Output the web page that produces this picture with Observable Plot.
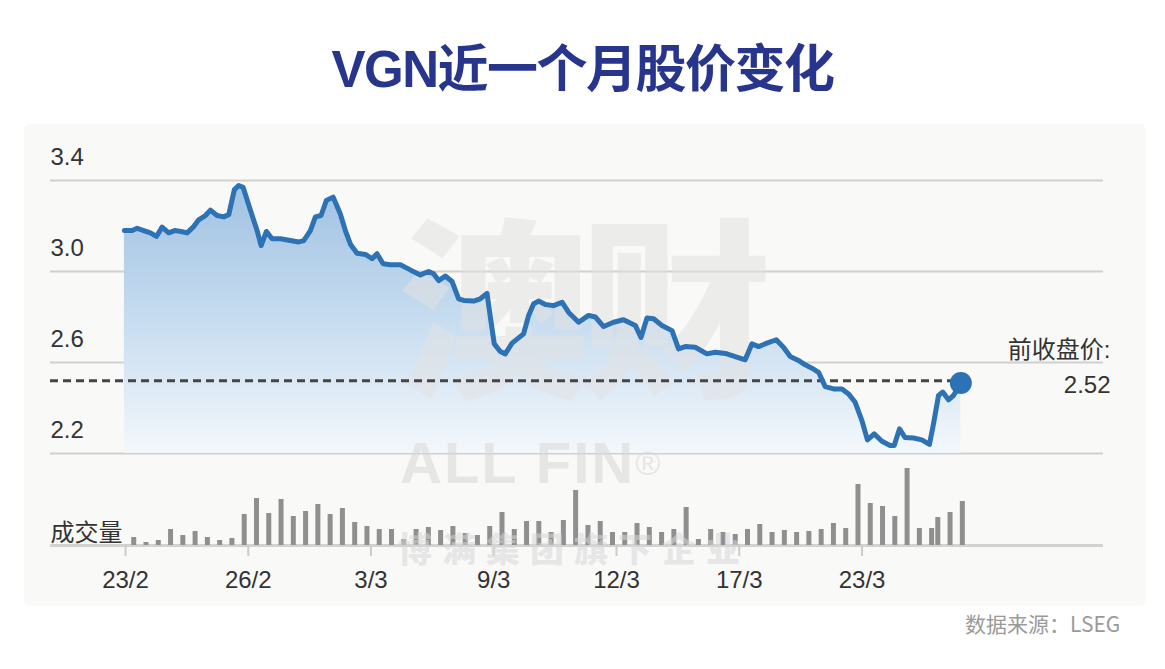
<!DOCTYPE html>
<html>
<head>
<meta charset="utf-8">
<script src="https://cdn.jsdelivr.net/npm/d3@7"></script>
<script src="https://cdn.jsdelivr.net/npm/@observablehq/plot@0.6"></script>
<style>
  html, body { margin: 0; padding: 0; background: #ffffff; }
  body { width: 1165px; height: 669px; overflow: hidden; position: relative;
         font-family: "Liberation Sans", "Noto Sans CJK SC", sans-serif; }
  #title { position: absolute; left: 0; top: 40px; width: 1165px; text-align: center;
           font-size: 51px; font-weight: bold; color: #28358c; line-height: 60px; letter-spacing: -1.5px; }
  #panel { position: absolute; left: 24px; top: 124px; width: 1122px; height: 482px;
           background: #f9f9f7; border-radius: 6px; }
  #price { position: absolute; left: 0; top: 125px; }
  #vol { position: absolute; left: 0; top: 455px; }
  .wm { position: absolute; font-family: "Noto Sans CJK SC", sans-serif; font-weight: 900;
        color: rgba(215,215,215,0.55); pointer-events: none; white-space: nowrap; }
  #source { position: absolute; left: 965px; top: 608px; font-size: 21px; color: #9a9a9a;
            font-family: "Noto Sans CJK SC", sans-serif; }
</style>
</head>
<body>
<div id="panel"></div>
<div id="title">VGN近一个月股价变化</div>
<div id="price"></div>
<div id="vol"></div>
<div class="wm" style="left:400px; top:428px; font-size:58px; line-height:70px; font-family:'Liberation Sans',sans-serif; letter-spacing:2px;">ALL FIN<span style="font-size:34px; vertical-align:top; font-weight:normal;">®</span></div>
<div class="wm" style="left:398px; top:526px; font-size:34px; line-height:44px; letter-spacing:10px;">博满集团旗下企业</div>
<div id="source">数据来源：LSEG</div>
<script>
// ---- data ----
// x positions are in "bar index" units (one unit = one volume bar slot)
const tickLabels = ["23/2", "26/2", "3/3", "9/3", "12/3", "17/3", "23/3"];
const tickIndex  = [0.33, 10.33, 20.33, 30.33, 40.33, 50.33, 60.33];

const priceTicks = [3.4, 3.0, 2.6, 2.2];
const prevClose = 2.52;

const lineT = [0.24,0.87,1.28,1.82,2.36,2.85,3.31,3.85,4.32,4.86,5.35,5.84,6.29,6.84,7.25,7.79,8.33,8.74,9.2,9.55,9.91,10.5,11.05,11.38,11.81,12.27,12.95,13.76,14.44,14.85,15.39,15.8,16.26,16.69,17.24,17.83,18.24,18.65,19.19,19.87,20.42,20.82,21.31,21.9,22.72,23.53,24.35,25.02,25.43,25.84,26.38,26.93,27.47,27.88,28.69,29.23,29.78,30.05,30.37,30.86,31.27,31.82,32.76,33.17,33.58,33.98,34.53,35.2,35.89,36.43,37.24,38.05,38.6,39.28,40.09,40.9,41.86,42.32,42.81,43.35,44.03,44.85,45.38,45.93,46.74,47.69,48.37,49.19,50.0,50.81,51.36,51.9,52.58,53.34,53.93,54.48,55.15,55.7,56.25,56.79,57.33,58.01,58.69,59.23,59.77,60.32,60.77,61.32,61.95,62.62,62.95,63.38,63.84,64.52,65.2,65.82,66.15,66.56,66.91,67.37,67.78,68.38];
const linePrice = [3.18,3.18,3.19,3.18,3.17,3.154,3.195,3.17,3.18,3.176,3.17,3.195,3.227,3.246,3.27,3.246,3.24,3.25,3.36,3.378,3.37,3.27,3.18,3.114,3.176,3.144,3.144,3.136,3.13,3.136,3.18,3.24,3.246,3.312,3.327,3.253,3.18,3.12,3.08,3.075,3.056,3.078,3.034,3.03,3.03,3.007,2.985,3.0,2.99,2.96,2.98,2.956,2.88,2.873,2.87,2.88,2.904,2.8,2.682,2.648,2.638,2.685,2.726,2.807,2.858,2.87,2.855,2.85,2.865,2.82,2.777,2.807,2.8,2.758,2.777,2.788,2.763,2.71,2.796,2.792,2.763,2.74,2.66,2.67,2.667,2.638,2.645,2.64,2.626,2.612,2.682,2.67,2.685,2.70,2.667,2.626,2.609,2.59,2.575,2.557,2.494,2.484,2.484,2.462,2.425,2.345,2.26,2.286,2.254,2.235,2.235,2.308,2.27,2.268,2.26,2.24,2.33,2.455,2.47,2.436,2.455,2.51];

const volIndex = [1,2,3,4,5,6,7,8,9,10,11,12,13,14,15,16,17,18,19,20,21,22,23,24,25,26,27,28,29,30,31,32,33,34,35,36,37,38,39,40,41,42,43,44,45,46,47,48,49,50,51,52,53,54,55,56,57,58,59,60,61,62,63,64,65,66,66.5,67.5,68.5];
const volume = [8,3,5,16,10,14,8,5,7,31,47,32,46,29,34,41,31,37,23,19,16,16,6,16,18,15,19,12,10,19,33,16,24,24,13,25,55,20,24,13,13,22,18,13,16,38,6,16,13,11,16,21,13,15,13,14,16,22,17,61,42,39,29,77,17,17,28,33,44];

// ---- build ----
const xDomain = [-5.78, 80];
const priceData = lineT.map((t, i) => ({t, p: linePrice[i]}));
const volData = volIndex.map((t, i) => ({t, v: volume[i]}));
const last = priceData[priceData.length - 1];
const labelOf = new Map(tickIndex.map((t, i) => [t, tickLabels[i]]));
const font = "'Liberation Sans', 'Noto Sans CJK SC', sans-serif";

const priceChart = Plot.plot({
  width: 1165, height: 345,
  marginLeft: 50, marginRight: 62, marginTop: 55, marginBottom: 17,
  x: {domain: xDomain, axis: null},
  y: {domain: [2.2, 3.4], axis: null},
  style: {background: "transparent", fontFamily: font, overflow: "visible"},
  marks: [
    Plot.ruleY(priceTicks, {stroke: "#d0d0d0", strokeWidth: 2}),
    Plot.text(priceTicks, {y: d => d, text: d => d.toFixed(1), frameAnchor: "left", textAnchor: "start",
      dy: -23, fontSize: 24, fill: "#333"}),
    Plot.areaY(priceData, {x: "t", y1: 2.2, y2: "p", fill: "url(#pgrad)"}),
    Plot.ruleY([prevClose], {x1: xDomain[0], x2: last.t, stroke: "#454545", strokeWidth: 3, strokeDasharray: "8,5"}),
    Plot.line(priceData, {x: "t", y: "p", stroke: "#2c72b4", strokeWidth: 5, strokeLinejoin: "round", strokeLinecap: "round"}),
    Plot.dot([last], {x: "t", y: "p", r: 11, fill: "#2c72b4"}),
    Plot.text([prevClose], {y: d => d, text: () => "前收盘价:", frameAnchor: "right", textAnchor: "end",
      dx: 7, dy: -30, fontSize: 24, fill: "#333"}),
    Plot.text([prevClose], {y: d => d, text: d => d.toFixed(2), frameAnchor: "right", textAnchor: "end",
      dx: 7, dy: 5, fontSize: 24, fill: "#333"})
  ]
});

const svgSel = d3.select(priceChart);
const defs = svgSel.insert("defs", ":first-child");
const grad = defs.append("linearGradient").attr("id", "pgrad")
  .attr("gradientUnits", "userSpaceOnUse")
  .attr("x1", 0).attr("x2", 0).attr("y1", 55).attr("y2", 330);
grad.append("stop").attr("offset", "0%").attr("stop-color", "#9fc1e2");
grad.append("stop").attr("offset", "45%").attr("stop-color", "#c2d9ee");
grad.append("stop").attr("offset", "100%").attr("stop-color", "#f4f8fc");

// faint "澳财" watermark sits above the area fill but beneath the line
const areaG = svgSel.select('g[aria-label="area"]').node();
if (areaG) {
  const wm = document.createElementNS("http://www.w3.org/2000/svg", "text");
  wm.setAttribute("x", 398);
  wm.setAttribute("y", 205);
  wm.setAttribute("text-anchor", "start");
  wm.setAttribute("dominant-baseline", "middle");
  wm.setAttribute("font-family", "'Noto Sans CJK SC', sans-serif");
  wm.setAttribute("font-weight", "900");
  wm.setAttribute("font-size", "192");
  wm.setAttribute("letter-spacing", "-10");
  wm.setAttribute("fill", "rgba(225,225,225,0.55)");
  wm.textContent = "澳财";
  areaG.parentNode.insertBefore(wm, areaG.nextSibling);
}

document.getElementById("price").appendChild(priceChart);

const volChart = Plot.plot({
  width: 1165, height: 150,
  marginLeft: 50, marginRight: 62, marginTop: 10, marginBottom: 60,
  x: {domain: xDomain, axis: null},
  y: {domain: [0, 80], axis: null},
  style: {background: "transparent", fontFamily: font, overflow: "visible"},
  marks: [
    Plot.ruleY([0], {stroke: "#d2d2d2", strokeWidth: 3}),
    Plot.ruleX(tickIndex, {x: d => d, y1: 0, y2: -11, stroke: "#cccccc", strokeWidth: 2}),
    Plot.ruleX(volData, {x: "t", y1: 0, y2: "v", stroke: "#8f8f8f", strokeWidth: 5}),
    Plot.text(tickIndex, {x: d => d, y: 0, dy: 35, text: d => labelOf.get(d), fontSize: 24, fill: "#333"}),
    Plot.text(["成交量"], {x: xDomain[0], y: 0, text: d => d, textAnchor: "start", dy: -12, fontSize: 24, fill: "#333"})
  ]
});
document.getElementById("vol").appendChild(volChart);
</script>
</body>
</html>
